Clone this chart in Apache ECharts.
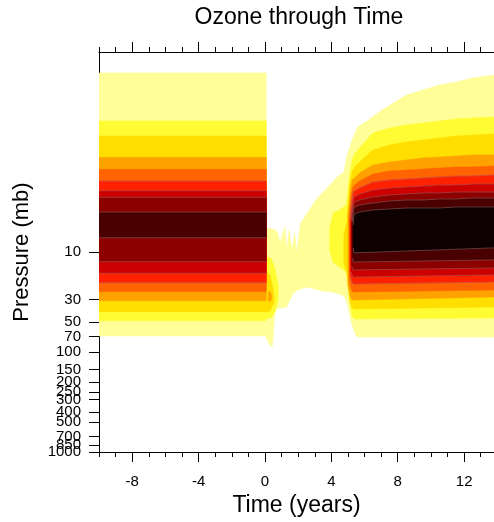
<!DOCTYPE html>
<html><head><meta charset="utf-8">
<script src="https://cdn.jsdelivr.net/npm/echarts@6/dist/echarts.min.js"></script>
<style>html,body{margin:0;padding:0;background:#fff}#c{width:494px;height:522px}</style>
</head><body><div id="c"></div>
<script>
// Contour fill colours, level 1 (lowest) .. level 10 (highest)
const levelColors = ['#FFFE99','#FFFC33','#FFDE00','#FFA200','#FF6400','#FF2200','#CC0000','#8C0000','#4A0000','#0E0000'];

// Axis ticks
const yTickValues = [10,30,50,70,100,150,200,250,300,400,500,700,850,1000];
const yExtraLabel = [850];
const xMajorTicks = [-8,-4,0,4,8,12];
const xMinorTicks = [-10,-9,-8,-7,-6,-5,-4,-3,-2,-1,0,1,2,3,4,5,6,7,8,9,10,11,12,13];

// Block before t=0: pressure (mb) bounds of levels 1..9
const blockTimes = [-10, 0.08];
const blockTop = [0.162, 0.49, 0.69, 1.13, 1.49, 1.95, 2.44, 2.84, 3.98];
const blockBottom = [69.2, 48.6, 39.5, 30.7, 24.9, 20.3, 16.3, 12.5, 7.2];

// Level 1 after t=0
const paleTopTimes = [0.08,0.45,0.6,0.75,0.9,1.05,1.2,1.3,1.45,1.62,1.8,1.9,2.15,2.55,3.15,3.75,4.35,4.75,4.95,5.25,5.6,6.15,7.05,8.5,9.5,10.5,11.5,12.5,13.8];
const paleTop = [5.75,5.89,6.03,6.31,8.13,6.76,5.62,9.55,6.03,9.55,6.46,10.2,5.13,4.07,2.88,2.29,1.78,1.59,1.07,0.76,0.56,0.49,0.38,0.27,0.24,0.214,0.2,0.182,0.17];
const paleBottomTimes = [0.08,0.3,0.45,0.6,0.75,1.0,1.3,1.5,1.7,2.0,2.5,3.0,3.5,4.0,4.5,4.8,4.95,5.1,5.25,5.45,5.6,13.8];
const paleBottom = [72.4,85.1,89.1,39.8,36.3,36.3,35.5,30.2,25.7,24.0,22.4,23.4,24.5,25.1,26.3,28.2,32.4,42.7,53.7,67.6,70.8,70.8];

// Small patches just after t=0 (levels 2,3,4)
const earlyLevels = [2, 3, 4];
const earlyTimes = [[0.08,0.35,0.6,0.8],[0.08,0.3,0.45,0.55],[0.2,0.3,0.4]];
const earlyTop = [[11.2,11.5,14.45,21.4],[15.85,16.98,21.4,26.9],[25.7,24.5,26.9]];
const earlyBottom = [[45.7,45.7,39.8,30.2],[39.8,38.9,34.7,31.6],[30.2,31.6,29.5]];

// Recovery region, levels 2..10: onset edge
const onsetTimes = [[3.9,4.1,4.5,4.9,5.1,5.25],[4.75,4.95,5.1,5.25],[5.0,5.15,5.25],[5.08,5.2,5.3],[5.13,5.25,5.32],[5.18,5.28,5.35],[5.22,5.3,5.37],[5.26,5.33],[5.32,5.36]];
const onsetTop = [[5.75,4.07,3.80,3.39,1.70,1.20],[6.76,4.79,2.14,1.585],[4.27,2.40,1.905],[4.27,2.69,2.24],[4.57,3.02,2.51],[4.79,3.39,2.88],[5.01,3.63,3.24],[5.01,3.80],[5.37,4.37]];
const onsetBottom = [[9.55,12.6,14.1,15.8,30.2,43.7],[12.6,16.98,30.2,36.3],[21.4,28.2,30.2],[19.05,23.4,25.1],[17.4,19.95,20.9],[15.85,17.4,17.8],[13.8,14.8,15.1],[11.5,12.6],[9.12,10.2]];
// Recovery region, levels 2..10: upper bounds
const rightTimes = [5.4,5.7,6.5,7.5,8.5,9.5,10.5,11.5,12.5,13.8];
const rightTop = [
  [1.047,0.912,0.646,0.575,0.537,0.513,0.490,0.468,0.457,0.447],
  [1.413,1.259,0.955,0.851,0.794,0.759,0.724,0.692,0.676,0.661],
  [1.820,1.622,1.349,1.259,1.202,1.148,1.122,1.096,1.072,1.072],
  [2.138,1.950,1.660,1.549,1.514,1.479,1.445,1.413,1.413,1.380],
  [2.455,2.291,1.995,1.905,1.862,1.820,1.778,1.738,1.738,1.698],
  [2.818,2.630,2.399,2.291,2.239,2.188,2.138,2.138,2.089,2.089],
  [3.162,3.020,2.818,2.692,2.630,2.570,2.570,2.512,2.512,2.512],
  [3.548,3.388,3.236,3.090,3.020,3.020,2.951,2.951,2.884,2.884],
  [4.169,3.981,3.802,3.715,3.631,3.631,3.631,3.548,3.548,3.548]
];
// Recovery region, levels 2..10: lower bounds
const rightBottomTimes = [5.4, 13.8];
const rightBottom = [[46.8,45.7],[37.2,35.5],[30.2,28.2],[25.1,24.0],[20.9,20.0],[17.8,17.0],[15.1,14.45],[12.6,12.0],[10.2,9.1]];

// ---- build patches (level-ordered) ----
const patches = [];
for (let lv = 1; lv <= 10; lv++) {
  const bi = lv - 1;
  if (bi < blockTop.length) {
    patches.push({level: lv, topT: blockTimes, topP: [blockTop[bi], blockTop[bi]], botT: blockTimes, botP: [blockBottom[bi], blockBottom[bi]]});
  }
  if (lv === 1) {
    patches.push({level: 1, topT: paleTopTimes, topP: paleTop, botT: paleBottomTimes, botP: paleBottom});
  }
  const ei = earlyLevels.indexOf(lv);
  if (ei >= 0) {
    patches.push({level: lv, topT: earlyTimes[ei], topP: earlyTop[ei], botT: earlyTimes[ei], botP: earlyBottom[ei]});
  }
  if (lv >= 2) {
    const ri = lv - 2;
    patches.push({level: lv,
      topT: onsetTimes[ri].concat(rightTimes), topP: onsetTop[ri].concat(rightTop[ri]),
      botT: onsetTimes[ri].concat(rightBottomTimes), botP: onsetBottom[ri].concat(rightBottom[ri])});
  }
}

const FONT = 'Liberation Sans, Arial, Helvetica, sans-serif';
const chart = echarts.init(document.getElementById('c'), null, {renderer: 'canvas'});

function renderItem(params, api) {
  const pt = patches[params.dataIndex];
  const top = pt.topT.map((t, i) => api.coord([t, pt.topP[i]]));
  const bot = pt.botT.map((t, i) => api.coord([t, pt.botP[i]]));
  const poly = top.concat(bot.slice().reverse());
  const col = levelColors[pt.level - 1];
  const children = [{type: 'polygon', shape: {points: poly}, style: {fill: col, stroke: col, lineWidth: 0.5}}];
  if (pt.level >= 6) {
    const ls = {fill: null, stroke: 'rgba(170,110,110,0.7)', lineWidth: 0.7};
    children.push({type: 'polyline', shape: {points: top}, style: ls});
    children.push({type: 'polyline', shape: {points: bot}, style: ls});
  }
  return {type: 'group', children};
}

const xBase = {type: 'value', min: -10, max: 13.8, gridIndex: 0, splitLine: {show: false}};
const yBase = {type: 'log', logBase: 10, min: 0.0999999, max: 1000.001, inverse: true, position: 'left', gridIndex: 0,
  splitLine: {show: false}, minorTick: {show: false}};
const tickStyle = {color: '#000', width: 1};
const yLabelStyle = {margin: 18, fontSize: 15, fontFamily: FONT, color: '#000', formatter: v => String(Math.round(v))};

chart.setOption({
  animation: false,
  backgroundColor: '#fff',
  title: {text: 'Ozone through Time', left: 294, textAlign: 'center', top: 1,
    textStyle: {fontFamily: FONT, fontSize: 23, fontWeight: 'normal', color: '#000'}},
  grid: {left: 99, top: 52, width: 396, height: 400, containLabel: false},
  xAxis: [
    Object.assign({}, xBase, {position: 'bottom',
      axisLine: {show: true, onZero: false, lineStyle: tickStyle},
      axisTick: {show: true, customValues: xMajorTicks, length: 10, lineStyle: tickStyle},
      axisLabel: {show: true, customValues: xMajorTicks, margin: 22, fontSize: 15, fontFamily: FONT, color: '#000', formatter: v => String(v)},
      name: 'Time (years)', nameLocation: 'middle', nameGap: 41,
      nameTextStyle: {fontFamily: FONT, fontSize: 23, color: '#000'}}),
    Object.assign({}, xBase, {position: 'bottom',
      axisLine: {show: false, onZero: false},
      axisTick: {show: true, customValues: xMinorTicks, length: 5, lineStyle: tickStyle},
      axisLabel: {show: false}}),
    Object.assign({}, xBase, {position: 'top',
      axisLine: {show: true, onZero: false, lineStyle: tickStyle},
      axisTick: {show: true, customValues: xMajorTicks, length: 10, lineStyle: tickStyle},
      axisLabel: {show: false}}),
    Object.assign({}, xBase, {position: 'top',
      axisLine: {show: false, onZero: false},
      axisTick: {show: true, customValues: xMinorTicks, length: 5, lineStyle: tickStyle},
      axisLabel: {show: false}})
  ],
  yAxis: [
    Object.assign({}, yBase, {
      axisLine: {show: true, onZero: false, lineStyle: tickStyle},
      axisTick: {show: true, customValues: yTickValues, length: 10, lineStyle: tickStyle},
      axisLabel: Object.assign({show: true, customValues: yTickValues.filter(v => yExtraLabel.indexOf(v) < 0),
        showMinLabel: true, showMaxLabel: true, hideOverlap: false}, yLabelStyle),
      name: 'Pressure (mb)', nameLocation: 'middle', nameGap: 66,
      nameTextStyle: {fontFamily: FONT, fontSize: 22, color: '#000'}}),
    Object.assign({}, yBase, {
      axisLine: {show: false, onZero: false},
      axisTick: {show: false},
      axisLabel: Object.assign({show: true, customValues: yExtraLabel, hideOverlap: false}, yLabelStyle)})
  ],
  series: [{
    type: 'custom', name: 'Ozone', xAxisIndex: 0, yAxisIndex: 0, clip: true,
    renderItem: renderItem,
    encode: {x: 0, y: 1},
    data: patches.map(pt => [pt.topT[0], pt.topP[0]])
  }]
});
</script></body></html>
